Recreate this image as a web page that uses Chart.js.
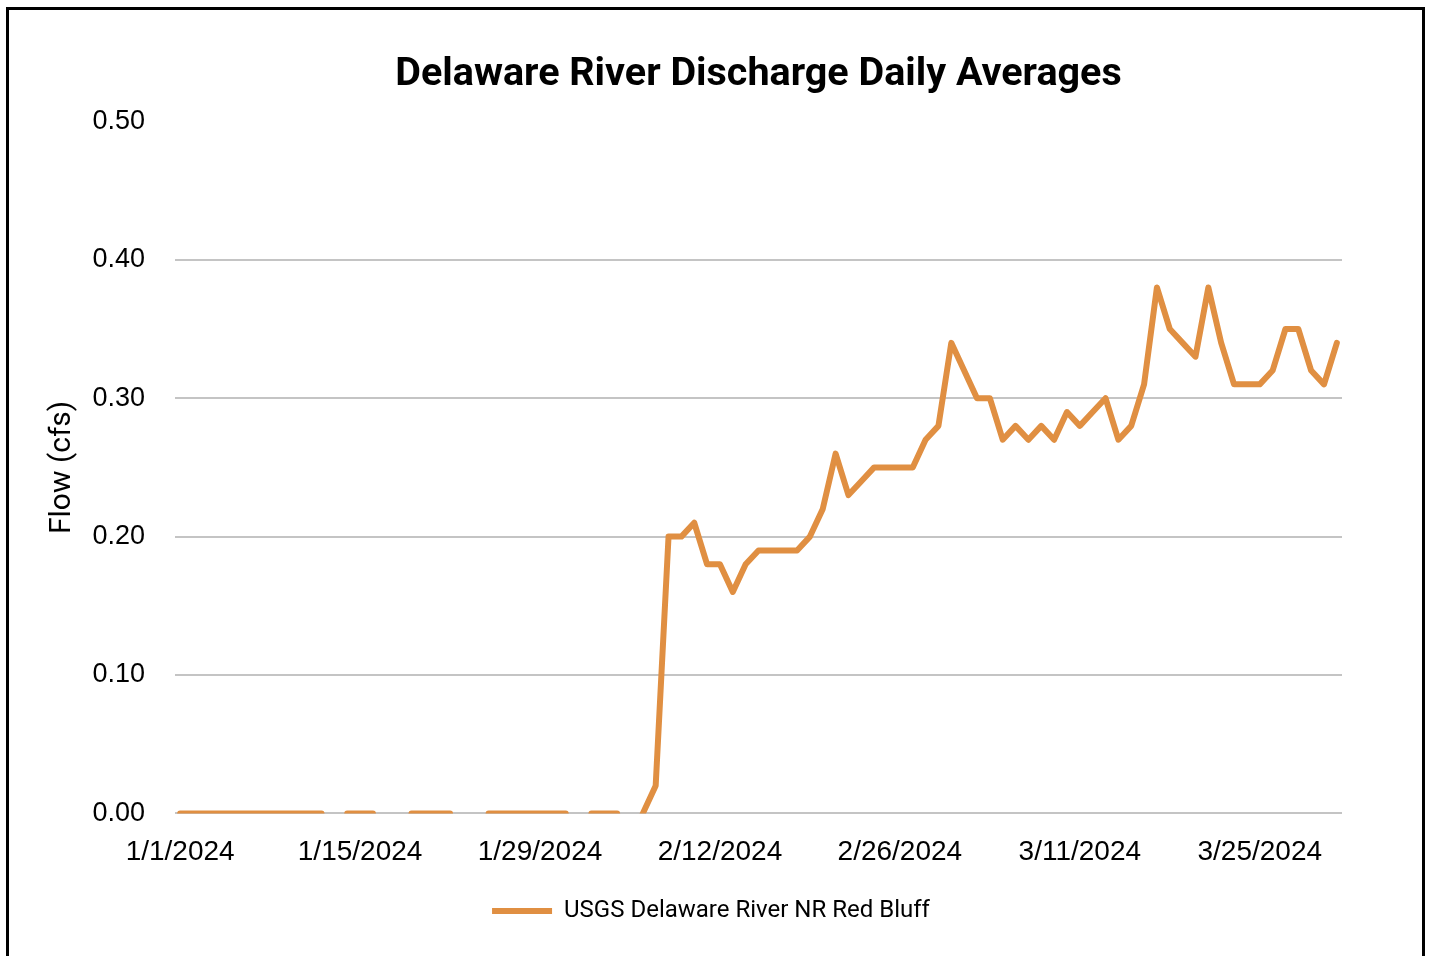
<!DOCTYPE html>
<html>
<head>
<meta charset="utf-8">
<script src="https://cdn.jsdelivr.net/npm/chart.js@4/dist/chart.umd.min.js"></script>
<style>
  body { margin: 0; background: #fff; width: 1432px; height: 956px; overflow: hidden; position: relative; }
  #frame { position: absolute; left: 6px; top: 7px; width: 1413px; height: 1000px; border: 3px solid #000; pointer-events: none; }
  #areaChart { position: absolute; left: 0; top: 0; }
</style>
</head>
<body>
<canvas id="areaChart" width="1432" height="956"></canvas>
<div id="frame"></div>
<script>
  // daily averages, 1/1/2024 .. 3/31/2024 (null = no reading)
  var flow = [
    0, 0, 0, 0, 0, 0, 0, 0, 0, 0, 0, 0,      // 1/1 - 1/12
    null, 0, 0, 0, null, null,               // 1/13 - 1/18
    0, 0, 0, 0, null, null,                  // 1/19 - 1/24
    0, 0, 0, 0, 0, 0, 0, null,               // 1/25 - 2/1
    0, 0, 0, null, 0, 0.02,                  // 2/2 - 2/7
    0.20, 0.20, 0.21, 0.18, 0.18, 0.16, 0.18, 0.19, 0.19, 0.19, 0.19, 0.20,
    0.22, 0.26, 0.23, 0.24, 0.25, 0.25, 0.25, 0.25, 0.27, 0.28, 0.34, 0.32,
    0.30, 0.30, 0.27, 0.28, 0.27, 0.28, 0.27, 0.29, 0.28, 0.29, 0.30, 0.27,
    0.28, 0.31, 0.38, 0.35, 0.34, 0.33, 0.38, 0.34, 0.31, 0.31, 0.31, 0.32,
    0.35, 0.35, 0.32, 0.31, 0.34
  ];
  var tickDays = [0, 14, 28, 42, 56, 70, 84];
  var tickLabels = ['1/1/2024', '1/15/2024', '1/29/2024', '2/12/2024', '2/26/2024', '3/11/2024', '3/25/2024'];
  var seriesName = 'USGS Delaware River NR Red Bluff';

  var lineColor = '#E08F42';
  var gridColor = '#C4C4C4';

  var points = flow.map(function (v, i) { return { x: i, y: v }; });

  var ctx = document.getElementById('areaChart').getContext('2d');
  new Chart(ctx, {
    type: 'line',
    data: {
      datasets: [{
        label: seriesName,
        data: points,
        borderColor: lineColor,
        backgroundColor: lineColor,
        borderWidth: 6,
        borderCapStyle: 'round',
        borderJoinStyle: 'round',
        pointRadius: 0,
        pointHoverRadius: 0,
        tension: 0,
        spanGaps: false
      }]
    },
    options: {
      responsive: false,
      animation: false,
      // left padding is wider so the bottom legend sits a bit right, like the original
      layout: { padding: { left: 80, right: 90, top: 20, bottom: 23 } },
      plugins: {
        title: {
          display: true,
          fullSize: false,
          text: 'Delaware River Discharge Daily Averages',
          color: '#000',
          font: { family: 'Roboto', size: 39.5, weight: 'bold' },
          padding: { top: 31, bottom: 23 }
        },
        legend: {
          position: 'bottom',
          labels: {
            usePointStyle: true,
            pointStyle: 'line',
            pointStyleWidth: 60,
            boxHeight: 24,
            color: '#000',
            padding: 8,
            font: { family: 'Roboto', size: 24 }
          }
        },
        tooltip: { enabled: false }
      },
      scales: {
        x: {
          type: 'linear',
          min: -0.4,
          max: 90.4,
          afterBuildTicks: function (scale) {
            scale.ticks = tickDays.map(function (d) { return { value: d }; });
          },
          ticks: {
            autoSkip: false,
            maxRotation: 0,
            padding: 22,
            color: '#000',
            font: { family: 'Liberation Sans', size: 28 },
            callback: function (value) {
              return tickLabels[tickDays.indexOf(value)];
            }
          },
          grid: { display: false, drawTicks: false },
          border: { display: false }
        },
        y: {
          min: 0,
          max: 0.5,
          afterFit: function (scale) { scale.width = 95; },
          ticks: {
            stepSize: 0.1,
            padding: 30,
            color: '#000',
            font: { family: 'Liberation Sans', size: 27 },
            callback: function (value) { return value.toFixed(2); }
          },
          grid: {
            drawTicks: false,
            lineWidth: 2,
            color: function (c) { return c.tick && c.tick.value >= 0.5 ? 'rgba(0,0,0,0)' : gridColor; }
          },
          border: { display: false },
          title: {
            display: true,
            text: 'Flow (cfs)',
            color: '#000',
            font: { family: 'Roboto', size: 30 },
            padding: { top: -36, bottom: 0 }
          }
        }
      }
    }
  });
</script>
</body>
</html>
